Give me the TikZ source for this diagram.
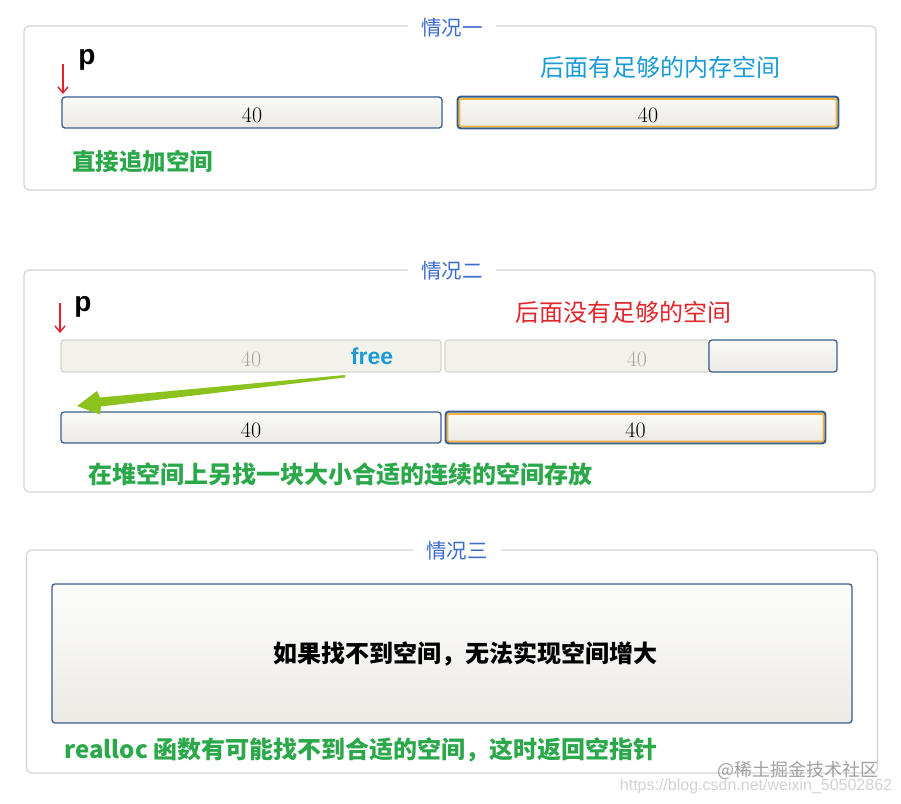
\documentclass[tikz,border=0pt]{standalone}
\usepackage{fontspec}
\newfontfamily\cjk{Noto Sans CJK SC}
\newfontfamily\arial{Liberation Sans}
\usetikzlibrary{arrows.meta}
\definecolor{framegray}{HTML}{D4D4D4}
\definecolor{titleblue}{HTML}{3C6BD0}
\definecolor{barblue}{HTML}{3A5F8C}
\definecolor{bartop}{HTML}{F9F9F7}
\definecolor{barbot}{HTML}{EBEAE5}
\definecolor{barorange}{HTML}{F2B340}
\definecolor{fadeline}{HTML}{D6D6CE}
\definecolor{fadefill}{HTML}{F2F1EA}
\definecolor{fadetext}{HTML}{A8A8A0}
\definecolor{cyantext}{HTML}{1A9BD7}
\definecolor{redtext}{HTML}{E0262B}
\definecolor{greentext}{HTML}{2BA84A}
\definecolor{arrowgreen}{HTML}{8CC21E}
\definecolor{ptrred}{HTML}{E8202A}
\definecolor{wmgray}{HTML}{A0A0A0}
\definecolor{urlgray}{HTML}{D2D2D2}
\newcommand{\numtext}[1]{\raisebox{-3pt}[\height][\depth]{#1}}
\tikzset{
  frame/.style={draw=framegray, line width=1.2pt, rounded corners=5pt, inner sep=0pt},
  title/.style={fill=white, text=titleblue, font=\cjk\fontsize{20.5}{24}\selectfont, inner xsep=13pt, inner ysep=1pt},
  bar/.style={draw=barblue, line width=1.3pt, rounded corners=3pt, top color=bartop, bottom color=barbot, minimum height=31pt, font=\fontsize{22}{24}\selectfont, inner sep=0pt},
  fadebar/.style={draw=fadeline, line width=1.2pt, rounded corners=3pt, fill=fadefill, minimum height=32pt, text=fadetext, font=\fontsize{22}{24}\selectfont, inner sep=0pt},
  orangeline/.style={draw=barorange, line width=1.6pt, rounded corners=2pt},
  ptr/.style={draw=ptrred, line width=1.4pt, -{Straight Barb[length=6pt,width=10pt]}},
  plabel/.style={font=\arial\bfseries\fontsize{28}{30}\selectfont, inner sep=0pt},
  cjktext/.style={font=\cjk\fontsize{24}{28}\selectfont, inner sep=0pt},
  cjkbold/.style={font=\cjk\bfseries\fontsize{23.5}{28}\selectfont, inner sep=0pt},
}
\begin{document}
\begin{tikzpicture}[x=1pt,y=-1pt]
\fill[white] (0,0) rectangle (901,803);
\useasboundingbox (0,0) rectangle (901,803);

% ---------- case 1 ----------
\node[frame, minimum width=852pt, minimum height=164pt] (f1) at (450,108) {};
\node[title] (t1) at (452,28) {情况一};
\node[bar, minimum width=380pt] (a1) at (252,112.5) {\numtext{40}};
\node[bar, minimum width=380pt] (a2) at (648,112.5) {\numtext{40}};
\draw[orangeline] (459.5,99) rectangle (836.5,126.5);
\draw[barblue, line width=1.3pt, rounded corners=3pt] (a2.north west) rectangle (a2.south east);
\coordinate (p1s) at (63,64);
\coordinate (p1e) at (63,94);
\draw[ptr] (p1s) -- (p1e);
\node[plabel] (p1) at (87,60) {p};
\node[cjktext, text=cyantext] (m1) at (660,67) {后面有足够的内存空间};
\node[cjkbold, text=greentext] (g1) at (142.5,161) {直接追加空间};

% ---------- case 2 ----------
\node[frame, minimum width=851pt, minimum height=222pt] (f2) at (449.5,381) {};
\node[title] (t2) at (452,271) {情况二};
\coordinate (p2s) at (60,303);
\coordinate (p2e) at (60,333);
\draw[ptr] (p2s) -- (p2e);
\node[plabel] (p2) at (83,307) {p};
\node[cjktext, text=redtext] (m2) at (623,312) {后面没有足够的空间};
\node[fadebar, minimum width=380pt] (o1) at (251,356) {\numtext{40}};
\node[fadebar, minimum width=264pt, text width=250pt, align=right] (o2) at (577,356) {\numtext{40}\hspace*{55pt}};
\node[bar, minimum width=128pt, minimum height=32pt] (o3) at (773,356) {};
\node[font=\arial\bfseries\fontsize{23}{26}\selectfont, text=cyantext, inner sep=0pt] (fr) at (372,356) {free};
\node[bar, minimum width=380pt] (n1) at (251,427.5) {\numtext{40}};
\node[bar, minimum width=379pt] (n2) at (635.5,427.5) {\numtext{40}};
\draw[orangeline] (447.5,414) rectangle (823.5,441.5);
\draw[barblue, line width=1.3pt, rounded corners=3pt] (n2.north west) rectangle (n2.south east);
% green tapered arrow from "free" to the new block
\coordinate (ga) at (345,375);
\coordinate (gb) at (77,406);
\fill[arrowgreen] (ga) -- (100,397.5) -- (97,391) -- (gb) -- (100,414.5) -- (101,406.5) -- (345,377.5) -- cycle;
\node[cjkbold, text=greentext, font=\cjk\bfseries\fontsize{24}{28}\selectfont] (g2) at (340,474) {在堆空间上另找一块大小合适的连续的空间存放};

% ---------- case 3 ----------
\node[frame, minimum width=851pt, minimum height=223pt] (f3) at (452,661.5) {};
\node[title] (t3) at (457,551) {情况三};
\node[bar, minimum width=800pt, minimum height=139pt, top color=white!60!bartop, bottom color=barbot] (big) at (452,653.5) {};
\node[cjkbold, text=black, font=\cjk\bfseries\fontsize{24}{28}\selectfont] (m3) at (465,654) {如果找不到空间，无法实现空间增大};
\node[cjkbold, text=greentext, font=\cjk\bfseries\fontsize{24}{28}\selectfont] (g3) at (361,750) {realloc 函数有可能找不到合适的空间，这时返回空指针};

% ---------- watermarks ----------
\node[font=\cjk\fontsize{18}{20}\selectfont, text=wmgray, inner sep=0pt] (wm) at (798,770) {@稀土掘金技术社区};
\node[font=\arial\fontsize{16}{18}\selectfont, text=urlgray, inner sep=0pt] (url) at (756,786) {https://blog.csdn.net/weixin\_50502862};
\end{tikzpicture}
\end{document}
